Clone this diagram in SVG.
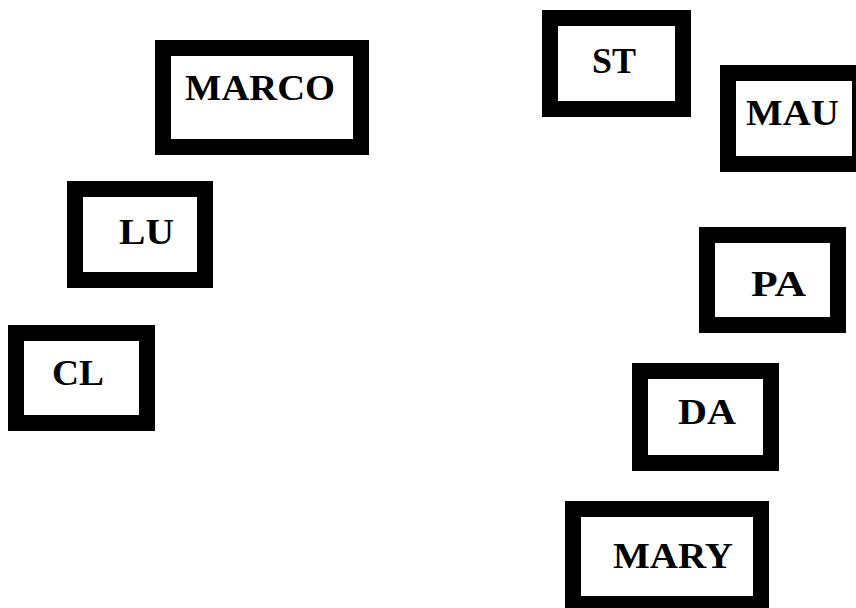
<svg xmlns="http://www.w3.org/2000/svg" width="856" height="608" viewBox="0 0 856 608">
<style>
.box{fill:#fff;stroke:#000;stroke-width:16}
.lbl{font-family:"Liberation Serif","Times New Roman",serif;font-weight:bold;font-size:35px;fill:#000}
</style>
<rect x="0" y="0" width="856" height="608" fill="#fff"/>
<g id="connectors"></g>
<g id="node-marco"><rect class="box" x="163" y="48" width="198" height="99"/><text class="lbl" x="185" y="100" textLength="150" lengthAdjust="spacingAndGlyphs">MARCO</text></g>
<g id="node-lu"><rect class="box" x="75" y="189" width="130" height="91"/><text class="lbl" x="119" y="244" textLength="55" lengthAdjust="spacingAndGlyphs">LU</text></g>
<g id="node-cl"><rect class="box" x="16" y="333" width="131" height="90"/><text class="lbl" x="52" y="385" textLength="52" lengthAdjust="spacingAndGlyphs">CL</text></g>
<g id="node-st"><rect class="box" x="550" y="18" width="133" height="91"/><text class="lbl" x="592" y="73" textLength="44" lengthAdjust="spacingAndGlyphs">ST</text></g>
<g id="node-mau"><rect class="box" x="728" y="73" width="132" height="91"/><text class="lbl" x="746" y="125" textLength="93" lengthAdjust="spacingAndGlyphs">MAU</text></g>
<g id="node-pa"><rect class="box" x="707" y="235" width="131" height="90"/><text class="lbl" x="751" y="296" textLength="55" lengthAdjust="spacingAndGlyphs" fill="#1a1208">PA</text></g>
<g id="node-da"><rect class="box" x="640" y="371" width="131" height="92"/><text class="lbl" x="678" y="424" textLength="58" lengthAdjust="spacingAndGlyphs">DA</text></g>
<g id="node-mary"><rect class="box" x="573" y="509" width="188" height="95"/><text class="lbl" x="613" y="568" textLength="120" lengthAdjust="spacingAndGlyphs">MARY</text></g>
</svg>
